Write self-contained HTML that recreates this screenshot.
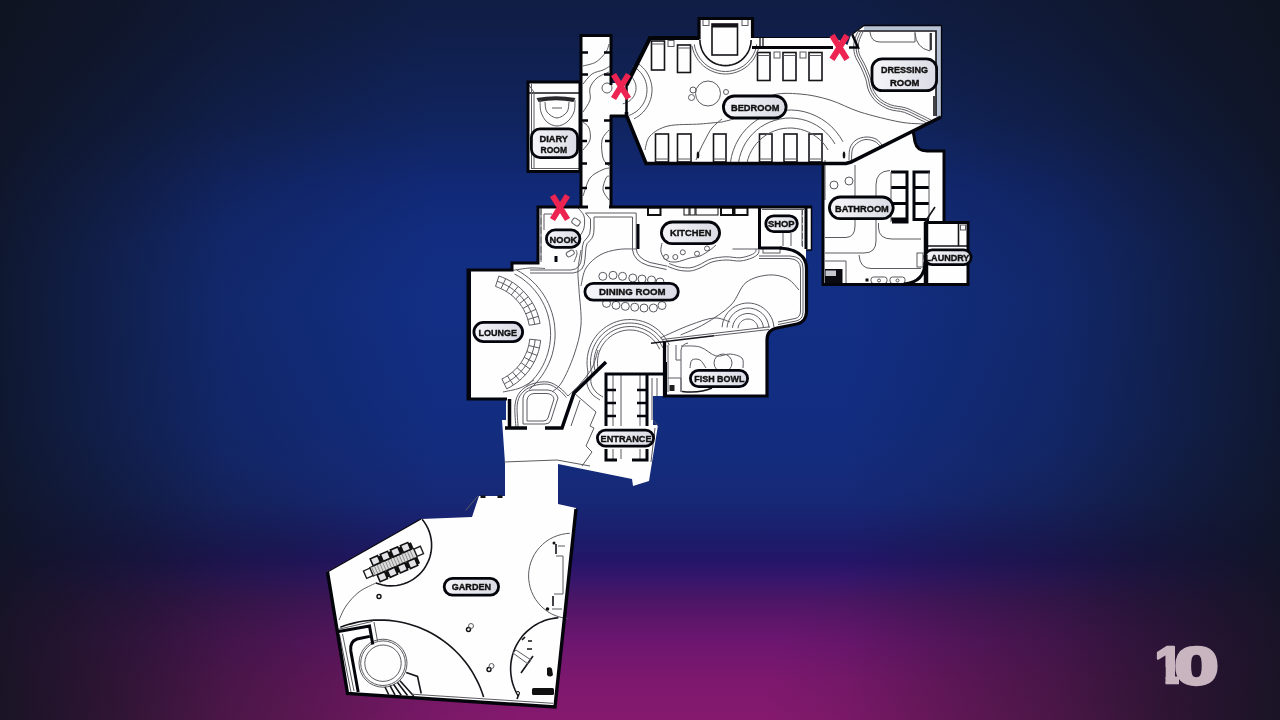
<!DOCTYPE html>
<html><head><meta charset="utf-8"><title>House floor plan</title>
<style>
html,body{margin:0;padding:0;width:1280px;height:720px;overflow:hidden;background:#0d1f5c}
#bg{position:absolute;left:0;top:0;width:1280px;height:720px;
background:
 radial-gradient(ellipse 420px 260px at 0px 0px, rgba(15,19,30,.45) 0%, rgba(15,19,30,.22) 50%, rgba(15,19,30,0) 100%),
 radial-gradient(ellipse 420px 260px at 1280px 0px, rgba(15,19,30,.45) 0%, rgba(15,19,30,.22) 50%, rgba(15,19,30,0) 100%),
 radial-gradient(ellipse 520px 300px at 0px 720px, rgba(15,19,30,.50) 0%, rgba(15,19,30,.28) 50%, rgba(15,19,30,0) 100%),
 radial-gradient(ellipse 520px 300px at 1280px 720px, rgba(15,19,30,.50) 0%, rgba(15,19,30,.28) 50%, rgba(15,19,30,0) 100%),
 linear-gradient(to right, rgba(15,19,30,0.82) 0%, rgba(15,19,30,0.77) 1.5%, rgba(15,19,30,0.52) 9.4%, rgba(15,19,30,0.25) 17.6%, rgba(15,19,30,0.14) 25%, rgba(15,19,30,0) 34%, rgba(15,19,30,0) 66%, rgba(15,19,30,0.14) 75%, rgba(15,19,30,0.26) 82.4%, rgba(15,19,30,0.52) 90.6%, rgba(15,19,30,0.77) 98.5%, rgba(15,19,30,0.82) 100%),
 linear-gradient(to bottom, rgb(16,29,68) 0%, rgb(16,30,72) 3.5%, rgb(16,36,94) 16.7%, rgb(17,41,118) 25.7%, rgb(18,45,128) 33%, rgb(18,47,133) 41.7%, rgb(18,46,131) 50%, rgb(18,45,128) 58%, rgb(20,43,123) 65%, rgb(22,40,118) 69.5%, rgb(25,34,112) 72.2%, rgb(28,28,105) 75%, rgb(36,21,105) 77.8%, rgb(55,22,108) 80.5%, rgb(75,22,102) 83.3%, rgb(92,22,106) 86%, rgb(108,22,112) 89%, rgb(125,24,110) 94.4%, rgb(133,25,110) 100%);
}
svg{position:absolute;left:0;top:0;will-change:transform;opacity:.9999}
text{font-family:"Liberation Sans",sans-serif;font-weight:bold;fill:#111;stroke:#111;stroke-width:.4}
.t{fill:none;stroke:#5c5c62;stroke-width:1}
.m{fill:none;stroke:#15151a;stroke-width:1.6}
.k{fill:none;stroke:#05060c;stroke-width:3}
</style></head><body>
<div id="bg"></div>
<svg width="1280" height="720" viewBox="0 0 1280 720">
<defs>
<linearGradient id="pill" x1="0" y1="0" x2="1" y2="0"><stop offset="0" stop-color="#f6f6fa"/><stop offset="1" stop-color="#dcdce6"/></linearGradient>
</defs>
<g id="fills" fill="#fff" stroke="none">
<rect x="580" y="34" width="32" height="174"/>
<rect x="527" y="81" width="54" height="91"/>
<rect x="611" y="83" width="17" height="33"/>
<path d="M846 49 L851.500 33.500 L860 49 Z"/>
<path d="M650 37 H699 V17 H753 V37 H833 L853 48 L852 34 L864 25 H941 V118 L851 163 H647 L627 116 V83 Z"/>
<path d="M822 160 L851 163 L912 131 L914 142 Q916 151 927 151 H944 V221 H968 V285 H822 Z"/>
<path d="M538 206 H812 V250 H806 V266 V312 Q807 322 797 324 L777 328 Q767 330 767 340 V396 H653 V425 H658 L649 481 L633 486 L632 479 L558 464 V504 L576 508 L555 707 L347.500 693.500 L327 572 L421 519 L472 517 L479 496 H505 V463 L502 420 H506 V399 H468 V270 H512 V263 H538 Z"/>
</g>
<g id="details">
<path class="t" d="M583.0 66.0 C585.2 65.3 592.2 64.3 596.0 62.0 C599.8 59.7 603.8 55.0 606.0 52.0 C608.2 49.0 608.5 45.3 609.0 44.0" />
<path class="t" d="M583.0 84.0 C584.5 82.3 588.7 76.3 592.0 74.0 C595.3 71.7 600.0 71.3 603.0 70.0 C606.0 68.7 608.8 66.7 610.0 66.0" />
<path class="t" d="M583.0 112.0 C584.2 110.0 588.8 104.0 590.0 100.0 C591.2 96.0 588.8 91.7 590.0 88.0 C591.2 84.3 593.8 80.7 597.0 78.0 C600.2 75.3 607.0 73.0 609.0 72.0" />
<circle class="t" cx="607" cy="88" r="5"/>
<path class="t" d="M583.0 150.0 C584.2 148.3 589.0 143.7 590.0 140.0 C591.0 136.3 590.2 131.0 589.0 128.0 C587.8 125.0 584.0 123.0 583.0 122.0" />
<path class="t" d="M609.0 130.0 C607.8 131.7 603.0 135.3 602.0 140.0 C601.0 144.7 601.8 153.7 603.0 158.0 C604.2 162.3 608.0 164.7 609.0 166.0" />
<path class="t" d="M583.0 196.0 C584.2 193.0 586.8 182.3 590.0 178.0 C593.2 173.7 598.8 171.7 602.0 170.0 C605.2 168.3 607.8 168.3 609.0 168.0" />
<path class="t" d="M609.0 200.0 C608.0 198.3 603.5 193.7 603.0 190.0 C602.5 186.3 605.0 180.3 606.0 178.0 C607.0 175.7 608.5 176.3 609.0 176.0" />
<path class="m" d="M529 93 H580" stroke-width="2.500"/>
<path class="t" d="M531.500 84 V169 M534 92 V169 M528 84 L534 92 M531 168.500 H579"/>
<path d="M536.500 98 Q556 94.500 575.500 98 L573.500 102 Q556 98.500 538.500 102 Z" fill="#2a2a2e"/>
<path class="t" d="M540.0 100.0 C540.2 102.0 539.8 108.3 541.0 112.0 C542.2 115.7 544.3 119.7 547.0 122.0 C549.7 124.3 553.7 126.0 557.0 126.0 C560.3 126.0 564.2 124.3 567.0 122.0 C569.8 119.7 572.7 115.7 574.0 112.0 C575.3 108.3 574.8 102.0 575.0 100.0" />
<path class="t" d="M545.0 102.0 C545.3 103.7 545.0 109.3 547.0 112.0 C549.0 114.7 553.7 118.0 557.0 118.0 C560.3 118.0 565.0 114.7 567.0 112.0 C569.0 109.3 568.7 103.7 569.0 102.0" stroke="#aaa"/>
<path class="t" d="M552 108 H562" stroke="#aaa"/>
<rect class="m" x="651.5" y="41" width="13.0" height="29" fill="#fff"/><path class="t" d="M651.5 44 H664.5"/>
<rect class="m" x="677.5" y="45" width="13.0" height="27.5" fill="#fff"/><path class="t" d="M677.5 48 H690.5"/>
<rect class="m" x="757.5" y="52.5" width="12.5" height="28.0" fill="#fff"/><path class="t" d="M757.5 55.5 H770"/>
<rect class="m" x="783" y="52.5" width="13" height="28.0" fill="#fff"/><path class="t" d="M783 55.5 H796"/>
<rect class="m" x="809" y="52.5" width="13" height="28.0" fill="#fff"/><path class="t" d="M809 55.5 H822"/>
<rect class="m" x="655.5" y="134" width="13.0" height="28" fill="#fff"/><path class="t" d="M655.5 159 H668.5"/>
<rect class="m" x="677.5" y="134" width="13.5" height="28" fill="#fff"/><path class="t" d="M677.5 159 H691"/>
<rect class="m" x="713.5" y="134" width="12.5" height="28" fill="#fff"/><path class="t" d="M713.5 159 H726"/>
<rect class="m" x="759.5" y="134" width="12.5" height="28" fill="#fff"/><path class="t" d="M759.5 159 H772"/>
<rect class="m" x="784" y="134" width="13" height="28" fill="#fff"/><path class="t" d="M784 159 H797"/>
<rect class="m" x="809" y="134" width="13" height="28" fill="#fff"/><path class="t" d="M809 159 H822"/>
<rect class="t" x="668" y="40.5" width="6" height="6" stroke="#333"/>
<rect class="t" x="774" y="52" width="6" height="6" stroke="#333"/>
<rect class="t" x="800" y="52" width="6" height="6" stroke="#333"/>
<rect class="m" x="712" y="24" width="25.500" height="31" stroke-width="1.800"/><path d="M712 24 H737.500 V27.500 H712 Z" fill="#15151a"/>
<rect class="t" x="703" y="19.500" width="6" height="6" stroke="#333"/><rect class="t" x="742" y="19.500" width="6" height="6" stroke="#333"/>
<path class="t" d="M706 19.500 H745"/>
<path class="m" d="M751.1 40.0 L750.9 43.3 L750.2 46.6 L749.2 49.8 L747.7 52.8 L745.8 55.6 L743.6 58.1 L741.1 60.3 L738.3 62.2 L735.3 63.7 L732.1 64.7 L728.8 65.4 L725.5 65.6 L722.2 65.4 L718.9 64.7 L715.7 63.7 L712.7 62.2 L709.9 60.3 L707.4 58.1 L705.2 55.6 L703.3 52.8 L701.8 49.8 L700.8 46.6 L700.1 43.3 L699.9 40.0" stroke-width="1.300"/>
<path class="t" d="M756.7 44.4 L756.0 48.1 L754.8 51.6 L753.2 55.0 L751.2 58.2 L748.8 61.1 L746.2 63.8 L743.2 66.1 L740.0 68.0 L736.5 69.5 L732.9 70.6 L729.2 71.3 L725.5 71.5 L721.8 71.3 L718.1 70.6 L714.5 69.5 L711.0 68.0 L707.8 66.1 L704.8 63.8 L702.2 61.1 L699.8 58.2 L697.8 55.0 L696.2 51.6 L695.0 48.1 L694.3 44.4" />
<path class="t" d="M759.0 45.9 L758.1 49.8 L756.7 53.5 L754.9 57.0 L752.8 60.3 L750.2 63.3 L747.4 66.0 L744.2 68.4 L740.8 70.4 L737.1 71.9 L733.3 73.1 L729.4 73.8 L725.5 74.0 L721.6 73.8 L717.7 73.1 L713.9 71.9 L710.2 70.4 L706.8 68.4 L703.6 66.0 L700.8 63.3 L698.2 60.3 L696.1 57.0 L694.3 53.5 L692.9 49.8 L692.0 45.9" />
<circle class="t" cx="708" cy="93.500" r="12.500"/><circle class="t" cx="693" cy="90" r="3"/><circle class="t" cx="691.500" cy="97.500" r="3"/><circle class="t" cx="726" cy="92" r="2.500"/>
<path class="t" d="M628.0 74.1 L629.4 75.0 L630.6 76.0 L631.8 77.2 L632.8 78.4 L633.7 79.8 L634.5 81.2 L635.1 82.7 L635.6 84.3 L635.9 85.9 L636.0 87.5 L636.0 89.2 L635.8 90.8 L635.4 92.4 L634.9 93.9 L634.2 95.4 L633.4 96.8 L632.4 98.1 L631.3 99.3 L630.1 100.4 L628.8 101.4 L627.4 102.2 L625.9 102.9 L624.4 103.4 L622.8 103.8" />
<path class="t" d="M632.7 66.2 L634.9 67.5 L637.0 69.0 L638.9 70.7 L640.7 72.6 L642.3 74.7 L643.6 76.9 L644.8 79.2 L645.7 81.7 L646.4 84.2 L646.8 86.7 L647.0 89.3 L646.9 91.9 L646.6 94.5 L646.1 97.0 L645.3 99.5 L644.3 101.8 L643.0 104.1 L641.6 106.2 L639.9 108.2 L638.1 110.1 L636.1 111.7 L633.9 113.1 L631.6 114.4 L629.2 115.4" />
<path class="t" d="M636.0 62.3 L638.4 63.8 L640.7 65.6 L642.8 67.6 L644.8 69.7 L646.5 72.0 L648.0 74.5 L649.3 77.1 L650.3 79.8 L651.1 82.5 L651.7 85.4 L652.0 88.2 L652.0 91.1 L651.7 94.0 L651.3 96.8 L650.5 99.6 L649.5 102.3 L648.3 104.9 L646.8 107.4 L645.2 109.8 L643.3 112.0 L641.2 114.0 L639.0 115.8 L636.6 117.4 L634.0 118.8" />
<path class="t" d="M645.0 150.0 C645.8 147.7 646.2 140.0 650.0 136.0 C653.8 132.0 659.7 128.0 668.0 126.0 C676.3 124.0 691.0 124.7 700.0 124.0 C709.0 123.3 718.3 122.3 722.0 122.0" />
<path class="t" d="M722.0 122.0 C725.0 121.0 732.0 120.3 740.0 116.0 C748.0 111.7 760.0 99.7 770.0 96.0 C780.0 92.3 790.0 93.3 800.0 94.0 C810.0 94.7 820.0 97.0 830.0 100.0 C840.0 103.0 848.3 108.3 860.0 112.0 C871.7 115.7 889.2 120.0 900.0 122.0 C910.8 124.0 920.8 123.7 925.0 124.0" />
<path class="t" d="M722.0 119.0 C720.3 120.5 714.8 124.5 712.0 128.0 C709.2 131.5 707.0 136.3 705.0 140.0 C703.0 143.7 701.5 146.7 700.0 150.0 C698.5 153.3 696.7 158.3 696.0 160.0" />
<path class="t" d="M738.5 162.8 L739.5 157.5 L741.1 152.4 L743.2 147.4 L745.7 142.7 L748.8 138.3 L752.3 134.2 L756.2 130.5 L760.4 127.2 L765.0 124.4 L769.8 122.1 L774.9 120.3 L780.1 119.0 L785.4 118.2 L790.8 118.0 L796.1 118.4 L801.4 119.3 L806.6 120.7 L811.6 122.7 L816.3 125.2 L820.8 128.1 L825.0 131.5 L828.7 135.3 L832.1 139.5 L835.0 144.0" />
<path class="t" d="M730.4 162.7 L731.5 156.5 L733.3 150.4 L735.7 144.5 L738.7 138.9 L742.2 133.7 L746.3 128.9 L750.9 124.5 L755.9 120.7 L761.3 117.3 L767.0 114.6 L772.9 112.5 L779.1 111.0 L785.3 110.2 L791.7 110.0 L798.0 110.5 L804.2 111.7 L810.2 113.5 L816.1 116.0 L821.6 119.0 L826.8 122.6 L831.6 126.7 L835.9 131.4 L839.7 136.4 L843.0 141.8" />
<path class="t" d="M747.0 162.9 L748.1 158.6 L749.6 154.5 L751.6 150.5 L754.0 146.8 L756.7 143.3 L759.7 140.1 L763.1 137.2 L766.7 134.7 L770.5 132.5 L774.6 130.8 L778.8 129.4 L783.1 128.5 L787.5 128.1 L791.9 128.0 L796.3 128.5 L800.6 129.3 L804.9 130.6 L808.9 132.3 L812.8 134.4 L816.5 136.9 L819.9 139.7 L823.0 142.8 L825.7 146.3 L828.1 150.0" />
<ellipse cx="698" cy="155" rx="1.300" ry="3.500" fill="#111"/><ellipse cx="844" cy="155" rx="1.300" ry="3.500" fill="#111"/>
<path class="t" d="M849.0 160.0 C849.2 158.0 848.8 151.3 850.0 148.0 C851.2 144.7 853.3 141.8 856.0 140.0 C858.7 138.2 862.7 137.2 866.0 137.0 C869.3 136.8 873.3 137.7 876.0 139.0 C878.7 140.3 881.0 144.0 882.0 145.0" />
<path class="t" d="M851.5 160.0 C851.7 158.2 851.4 151.9 852.5 149.0 C853.6 146.1 855.8 144.1 858.0 142.5 C860.2 140.9 863.2 139.7 866.0 139.5 C868.8 139.3 872.7 140.4 875.0 141.5 C877.3 142.6 879.2 145.2 880.0 146.0" stroke="#aaa"/>
<path d="M864 26 H941 V30.500 H864 Z" fill="#b9c3d6"/><path d="M936 30 H941 V117 H936 Z" fill="#b9c3d6"/>
<path class="m" d="M858 31 H936 V116" stroke-width="1.400"/>
<path class="t" d="M870 32 Q871 42 880 42 H915 V32" stroke="#333"/>
<path class="t" d="M915 33 Q916 48 930 51 V33" stroke="#333"/><path class="m" d="M931 33 V50" stroke-width="2"/>
<path class="t" d="M861.0 31.0 C860.2 32.8 857.2 38.2 856.5 42.0 C855.8 45.8 855.9 50.0 857.0 54.0 C858.1 58.0 861.2 62.0 863.0 66.0 C864.8 70.0 866.7 74.0 868.0 78.0 C869.3 82.0 869.3 86.3 871.0 90.0 C872.7 93.7 874.8 97.2 878.0 100.0 C881.2 102.8 885.5 105.3 890.0 107.0 C894.5 108.7 900.3 108.5 905.0 110.0 C909.7 111.5 913.8 114.0 918.0 116.0 C922.2 118.0 928.0 121.0 930.0 122.0" /><path class="t" d="M858.8 30.1 C858.0 32.0 854.8 37.5 854.1 41.6 C853.5 45.7 853.6 50.4 854.7 54.6 C855.8 58.9 859.0 63.0 860.8 67.0 C862.7 71.0 864.4 74.8 865.7 78.8 C867.1 82.8 867.0 87.2 868.8 91.0 C870.6 94.8 873.0 98.7 876.4 101.8 C879.8 104.8 884.5 107.5 889.2 109.3 C893.8 111.0 899.6 110.8 904.3 112.3 C908.9 113.8 912.9 116.2 917.0 118.2 C921.1 120.1 926.9 123.1 928.9 124.1" />
<path class="t" d="M863.0 31.8 C862.3 33.6 859.3 38.8 858.7 42.4 C858.0 46.0 858.1 49.6 859.1 53.4 C860.2 57.2 863.2 61.1 865.0 65.1 C866.8 69.1 868.8 73.3 870.1 77.3 C871.4 81.3 871.4 85.6 873.0 89.1 C874.6 92.6 876.5 95.7 879.5 98.4 C882.4 101.0 886.4 103.3 890.8 104.9 C895.1 106.5 901.0 106.4 905.7 107.9 C910.4 109.4 914.7 112.0 919.0 114.0 C923.2 116.0 929.0 119.0 931.0 120.0" stroke="#aaa"/>
<path class="m" d="M934 96 V116" stroke-width="2.400"/>
<path class="t" d="M825 237.500 H846 Q855 237 855 226 V165"/>
<path class="t" d="M825 253 H864 Q876 253 876 241 V185 Q876 171 890 170.500"/>
<path class="t" d="M878.500 223 V228 Q879 239 892 239 H921"/>
<path class="t" d="M859 255 Q860 268.500 871 268.500 H921"/>
<path class="t" d="M825 261 H846 V283"/>
<path class="t" d="M825 160 V200" stroke="#aaa"/>
<circle class="t" cx="834" cy="185" r="4"/><circle class="t" cx="849" cy="181" r="4"/>
<path d="M825 269 H842.500 V283 H825 Z" fill="#0b0b10"/><path d="M825.500 270.500 H836 V276 H825.500 Z" fill="#c8c8d0"/>
<rect class="t" x="871" y="277" width="16" height="6.500" rx="2.500" stroke="#222"/><rect class="t" x="890" y="277" width="15" height="6.500" rx="2.500" stroke="#222"/><circle class="t" cx="879" cy="280.500" r="1.500" stroke="#222"/><circle class="t" cx="897.500" cy="280.500" r="1.500" stroke="#222"/><rect x="865.500" y="278.500" width="3" height="3" fill="#111"/>
<path class="k" stroke-width="3" d="M891 172 H907 V222 H892 M891 187.500 H907 M891 203.500 H907 M891 219 H907"/>
<path class="k" stroke-width="3" d="M930 172 H914 V219.500 H929 M914 187.500 H929 M914 203.500 H929"/>
<path class="t" d="M891 172 V222 M929 172 V219" stroke="#999"/>
<path class="m" d="M935 207 L925 222" stroke-width="1.800"/>
<path class="m" d="M927 246 H967 M958.500 223 V246" stroke-width="2"/><rect class="t" x="960.500" y="225" width="5" height="5" stroke="#222"/>
<rect class="t" x="917" y="253" width="6" height="14" stroke="#444"/>
<path class="t" d="M541 209 V260 M544 214 V230 M544 214 H552"/>
<path class="k" stroke-width="2.400" d="M556 256 V262"/>
<path class="t" d="M541 208 V262" stroke="#111" stroke-dasharray="7 2.500" stroke-width="1.800"/>
<path class="t" d="M578.0 208.0 C579.0 209.3 583.0 212.7 584.0 216.0 C585.0 219.3 584.7 224.7 584.0 228.0 C583.3 231.3 580.7 234.7 580.0 236.0" />
<rect class="t" x="572" y="219" width="8" height="6" rx="2" transform="rotate(35 576 222)"/><rect class="t" x="566" y="251" width="8" height="5" rx="2" transform="rotate(-30 570 253)"/>
<path class="t" d="M574.0 262.0 C574.5 260.7 576.7 256.0 577.0 254.0 C577.3 252.0 576.2 250.7 576.0 250.0" />
<path class="t" d="M530 270 H571 Q581 269 581.500 258 L582.500 246 Q583 241 587 238 Q590.500 235 590.500 228 V219 L585.500 213 H636.200 V249 Q637 258 650 262.500 L667.500 266.200"/>
<path class="t" d="M530 273 H573 Q584.500 272 585 259 L586 247 Q586.500 243 590 240.500 Q594 237 594 229 V217 H632.500 V250 Q634 261 648 265.500 L666.500 269.500"/>
<path class="k" stroke-width="2" d="M638 224 V249"/>
<rect x="648" y="207.500" width="12.5" height="7.500" fill="#fff" stroke="#111" stroke-width="2"/>
<rect x="684" y="207.500" width="5" height="7.500" fill="#fff" stroke="#111" stroke-width="1"/>
<rect x="690" y="207.500" width="5" height="7.500" fill="#fff" stroke="#111" stroke-width="1"/>
<rect x="696" y="207.500" width="22" height="7.500" fill="#fff" stroke="#111" stroke-width="1"/>
<rect x="721" y="207.500" width="12" height="7.500" fill="#fff" stroke="#111" stroke-width="2"/>
<rect x="734.5" y="207.500" width="13" height="7.500" fill="#fff" stroke="#111" stroke-width="2"/>
<path class="t" d="M668.0 266.5 C669.7 267.1 674.3 269.2 678.0 270.0 C681.7 270.8 686.3 271.3 690.0 271.0 C693.7 270.7 696.3 269.5 700.0 268.0 C703.7 266.5 707.7 263.3 712.0 262.0 C716.3 260.7 721.3 260.2 726.0 260.0 C730.7 259.8 735.7 261.3 740.0 261.0 C744.3 260.7 749.0 259.2 752.0 258.0 C755.0 256.8 756.8 255.3 758.0 254.0 C759.2 252.7 758.8 250.7 759.0 250.0" /><path class="t" d="M669.1 263.5 C670.7 264.0 675.2 266.1 678.6 266.9 C682.1 267.6 686.4 268.1 689.7 267.8 C693.1 267.5 695.2 266.5 698.8 265.0 C702.3 263.6 706.5 260.3 711.1 258.9 C715.6 257.6 721.1 257.0 725.9 256.8 C730.7 256.6 735.6 258.1 739.8 257.8 C743.9 257.5 748.2 256.0 750.8 255.0 C753.5 254.0 754.7 252.9 755.6 251.9 C756.4 250.9 755.8 249.7 755.9 249.2" />
<path class="t" d="M662.0 243.0 C661.8 244.5 660.3 249.2 661.0 252.0 C661.7 254.8 663.5 258.3 666.0 260.0 C668.5 261.7 672.0 262.3 676.0 262.0 C680.0 261.7 686.0 259.0 690.0 258.0 C694.0 257.0 696.7 257.3 700.0 256.0 C703.3 254.7 707.3 251.8 710.0 250.0 C712.7 248.2 715.0 245.8 716.0 245.0" />
<circle class="t" cx="666" cy="257" r="2.500" stroke="#333"/>
<circle class="t" cx="675.3" cy="257" r="2.500" stroke="#333"/>
<circle class="t" cx="682.8" cy="252.3" r="2.500" stroke="#333"/>
<circle class="t" cx="697" cy="253.7" r="2.500" stroke="#333"/>
<circle class="t" cx="707" cy="248.5" r="2.500" stroke="#333"/>
<path class="t" d="M732.500 249 H758" stroke="#444" stroke-width="1.200"/>
<path class="t" d="M783 233 V246 M791 233 V246 M762 209.500 H804 M802 209 V246"/>
<path class="t" d="M802.500 209 V247" stroke="#111" stroke-dasharray="6 2" stroke-width="1.200"/>
<rect class="t" x="763" y="248" width="17" height="5"/>
<path class="t" d="M759 256 H790 Q803 256.500 803 268 V312 Q803 319.500 796 321 L778 324.500"/>
<path class="t" d="M759 258.500 H789 Q800.500 259 800.500 269 V311 Q800.500 317.500 795 318.500 L778 322"/>
<circle class="t" cx="602.8" cy="276.3" r="4" stroke="#5a6070" stroke-width="1.400" fill="#f4f6fb"/>
<circle class="t" cx="613" cy="275.3" r="4" stroke="#5a6070" stroke-width="1.400" fill="#f4f6fb"/>
<circle class="t" cx="622.5" cy="276.3" r="4" stroke="#5a6070" stroke-width="1.400" fill="#f4f6fb"/>
<circle class="t" cx="632.8" cy="278" r="4" stroke="#5a6070" stroke-width="1.400" fill="#f4f6fb"/>
<circle class="t" cx="642" cy="279" r="4" stroke="#5a6070" stroke-width="1.400" fill="#f4f6fb"/>
<circle class="t" cx="651.5" cy="280" r="4" stroke="#5a6070" stroke-width="1.400" fill="#f4f6fb"/>
<circle class="t" cx="660" cy="282" r="4" stroke="#5a6070" stroke-width="1.400" fill="#f4f6fb"/>
<circle class="t" cx="606.5" cy="303.4" r="4" stroke="#5a6070" stroke-width="1.400" fill="#f4f6fb"/>
<circle class="t" cx="616" cy="305.3" r="4" stroke="#5a6070" stroke-width="1.400" fill="#f4f6fb"/>
<circle class="t" cx="625.3" cy="306.3" r="4" stroke="#5a6070" stroke-width="1.400" fill="#f4f6fb"/>
<circle class="t" cx="634.7" cy="307.2" r="4" stroke="#5a6070" stroke-width="1.400" fill="#f4f6fb"/>
<circle class="t" cx="644" cy="308" r="4" stroke="#5a6070" stroke-width="1.400" fill="#f4f6fb"/>
<circle class="t" cx="653.4" cy="308" r="4" stroke="#5a6070" stroke-width="1.400" fill="#f4f6fb"/>
<circle class="t" cx="662" cy="305.5" r="4" stroke="#5a6070" stroke-width="1.400" fill="#f4f6fb"/>
<path class="t" d="M581.0 250.0 C580.5 253.3 578.3 263.3 578.0 270.0 C577.7 276.7 578.5 280.8 579.0 290.0 C579.5 299.2 581.8 314.2 581.0 325.0 C580.2 335.8 577.2 345.5 574.0 355.0 C570.8 364.5 565.7 375.8 562.0 382.0 C558.3 388.2 553.7 390.3 552.0 392.0" />
<path class="t" d="M581.0 286.0 C581.8 283.0 582.8 273.2 586.0 268.0 C589.2 262.8 594.7 258.1 600.0 255.0 C605.3 251.9 611.8 250.5 618.0 249.5 C624.2 248.5 633.8 249.1 637.0 249.0" />
<path class="t" d="M680.6 335.0 C684.7 333.1 696.6 328.7 705.0 323.7 C713.4 318.7 724.2 311.9 731.0 305.0 C737.8 298.1 739.7 287.5 746.0 282.5 C752.3 277.5 761.8 275.6 768.7 275.0 C775.6 274.4 782.5 276.2 787.5 278.7 C792.5 281.2 797.1 288.1 799.0 290.0" />
<path class="t" d="M660.0 338.0 C665.0 335.8 681.0 328.3 690.0 325.0 C699.0 321.7 707.3 318.5 714.0 318.0 C720.7 317.5 727.3 321.3 730.0 322.0" />
<path class="t" d="M587.9 371.4 L587.3 367.8 L587.0 364.1 L587.1 360.4 L587.4 356.7 L588.1 353.0 L589.0 349.5 L590.3 346.0 L591.9 342.6 L593.7 339.4 L595.8 336.4 L598.2 333.5 L600.8 330.9 L603.7 328.5 L606.7 326.4 L609.9 324.5 L613.2 322.9 L616.7 321.6 L620.3 320.6 L623.9 319.9 L627.6 319.6 L631.3 319.5 L635.0 319.8 L638.7 320.4 L642.3 321.3 L645.8 322.5 L649.2 324.0 L652.4 325.8 L655.5 327.9 L658.4 330.2 L661.1 332.8 L663.5 335.5 L665.7 338.5 L667.6 341.7 L669.3 345.0" stroke="#555"/>
<path class="t" d="M591.4 370.7 L590.8 367.4 L590.5 364.0 L590.5 360.6 L590.9 357.2 L591.5 353.8 L592.4 350.5 L593.5 347.3 L595.0 344.2 L596.7 341.3 L598.6 338.5 L600.8 335.9 L603.2 333.5 L605.8 331.3 L608.6 329.3 L611.5 327.6 L614.6 326.1 L617.8 324.9 L621.1 324.0 L624.4 323.4 L627.8 323.1 L631.2 323.0 L634.6 323.3 L638.0 323.8 L641.3 324.6 L644.5 325.8 L647.6 327.1 L650.6 328.8 L653.4 330.7 L656.1 332.8 L658.5 335.2 L660.8 337.7 L662.8 340.5 L664.6 343.4 L666.1 346.4" stroke="#555"/>
<path class="t" d="M594.8 370.0 L594.3 366.9 L594.0 363.8 L594.0 360.7 L594.3 357.6 L594.9 354.6 L595.7 351.6 L596.8 348.7 L598.1 345.9 L599.6 343.2 L601.4 340.6 L603.4 338.2 L605.6 336.0 L608.0 334.0 L610.5 332.2 L613.2 330.7 L616.0 329.3 L618.9 328.3 L621.9 327.4 L624.9 326.9 L628.0 326.6 L631.1 326.5 L634.2 326.7 L637.3 327.2 L640.3 328.0 L643.2 329.0 L646.0 330.3 L648.8 331.8 L651.3 333.5 L653.8 335.5 L656.0 337.6 L658.0 339.9 L659.9 342.4 L661.5 345.1 L662.9 347.9" stroke="#555"/>
<path class="t" d="M598.2 369.3 L597.7 366.5 L597.5 363.7 L597.5 360.9 L597.8 358.1 L598.3 355.4 L599.0 352.6 L600.0 350.0 L601.2 347.5 L602.6 345.1 L604.2 342.8 L606.0 340.6 L608.0 338.6 L610.1 336.8 L612.4 335.2 L614.8 333.8 L617.3 332.6 L620.0 331.6 L622.7 330.8 L625.4 330.3 L628.2 330.0 L631.0 330.0 L633.8 330.2 L636.6 330.7 L639.3 331.4 L641.9 332.3 L644.5 333.4 L646.9 334.8 L649.3 336.3 L651.4 338.1 L653.5 340.0 L655.3 342.1 L657.0 344.4 L658.4 346.8 L659.7 349.3" stroke="#555"/>
<path class="t" d="M588.0 371.0 C587.8 373.2 586.3 380.2 587.0 384.0 C587.7 387.8 589.8 391.3 592.0 394.0 C594.2 396.7 598.7 399.0 600.0 400.0" />
<path class="t" d="M592.0 371.0 C591.8 373.0 590.3 379.5 591.0 383.0 C591.7 386.5 594.0 389.7 596.0 392.0 C598.0 394.3 601.8 396.2 603.0 397.0" />
<path class="t" d="M722.1 327.2 L722.5 324.0 L723.3 320.8 L724.5 317.8 L726.1 315.0 L728.0 312.3 L730.3 310.0 L732.8 307.9 L735.5 306.2 L738.5 304.8 L741.6 303.8 L744.8 303.2 L748.0 303.0 L751.2 303.2 L754.4 303.8 L757.5 304.8 L760.5 306.2 L763.2 307.9 L765.7 310.0 L768.0 312.3 L769.9 315.0 L771.5 317.8 L772.7 320.8 L773.5 324.0 L773.9 327.2" />
<path class="t" d="M727.1 327.5 L727.4 324.9 L728.1 322.4 L729.0 320.0 L730.3 317.7 L731.9 315.5 L733.7 313.6 L735.7 312.0 L737.9 310.6 L740.3 309.5 L742.8 308.7 L745.4 308.2 L748.0 308.0 L750.6 308.2 L753.2 308.7 L755.7 309.5 L758.1 310.6 L760.3 312.0 L762.3 313.6 L764.1 315.5 L765.7 317.7 L767.0 320.0 L767.9 322.4 L768.6 324.9 L768.9 327.5" />
<path class="t" d="M732.5 327.9 L732.8 326.0 L733.3 324.1 L734.0 322.3 L735.0 320.6 L736.1 319.1 L737.4 317.7 L738.9 316.4 L740.6 315.4 L742.3 314.6 L744.2 314.0 L746.1 313.6 L748.0 313.5 L749.9 313.6 L751.8 314.0 L753.7 314.6 L755.4 315.4 L757.1 316.4 L758.6 317.7 L759.9 319.1 L761.0 320.6 L762.0 322.3 L762.7 324.1 L763.2 326.0 L763.5 327.9" />
<path class="t" d="M738.0 328.3 L738.2 327.1 L738.5 325.9 L739.0 324.7 L739.6 323.6 L740.3 322.6 L741.2 321.7 L742.1 320.9 L743.2 320.2 L744.3 319.7 L745.5 319.3 L746.8 319.1 L748.0 319.0 L749.2 319.1 L750.5 319.3 L751.7 319.7 L752.8 320.2 L753.9 320.9 L754.8 321.7 L755.7 322.6 L756.4 323.6 L757.0 324.7 L757.5 325.9 L757.8 327.1 L758.0 328.3" />
<path class="t" d="M516.6 270.0 L520.7 272.3 L524.7 275.0 L528.4 277.8 L532.0 280.9 L535.3 284.2 L538.5 287.8 L541.4 291.5 L544.0 295.4 L546.4 299.5 L548.5 303.7 L550.3 308.1 L551.9 312.6 L553.1 317.1 L554.1 321.7 L554.7 326.4 L555.0 331.1 L555.1 335.9 L554.8 340.6 L554.2 345.3 L553.3 349.9 L552.2 354.5 L550.7 359.0 L548.9 363.3 L546.8 367.6 L544.5 371.7 L541.9 375.7 L539.1 379.4 L536.0 383.0 L532.7 386.4 L529.2 389.5" />
<path class="t" d="M514.5 274.0 L518.4 276.2 L522.1 278.6 L525.6 281.3 L528.9 284.2 L532.1 287.3 L535.0 290.7 L537.7 294.2 L540.2 297.8 L542.4 301.7 L544.4 305.6 L546.1 309.7 L547.6 313.9 L548.7 318.2 L549.6 322.5 L550.2 326.9 L550.5 331.3 L550.6 335.7 L550.3 340.2 L549.8 344.6 L548.9 348.9 L547.8 353.2 L546.4 357.4 L544.8 361.5 L542.9 365.5 L540.7 369.4 L538.3 373.1 L535.6 376.6 L532.7 380.0 L529.6 383.1 L526.3 386.1" />
<path class="t" d="M512.0 270.5 C515.0 270.1 524.5 268.3 530.0 268.0 C535.5 267.7 542.5 268.4 545.0 268.5" />
<path class="t" d="M495.5 286.4 L498.6 287.6 L501.7 289.0 L504.7 290.5 L507.6 292.3 L510.4 294.3 L513.0 296.4 L515.4 298.7 L517.7 301.2 L519.9 303.8 L521.8 306.6 L523.6 309.5 L525.1 312.5 L526.5 315.6 L527.6 318.8 L528.5 322.0 L529.2 325.3" stroke="#888"/><path class="t" d="M498.9 276.0 L502.7 277.4 L506.5 279.1 L510.2 281.0 L513.7 283.1 L517.0 285.5 L520.2 288.1 L523.2 291.0 L526.0 294.0 L528.6 297.2 L531.0 300.6 L533.2 304.1 L535.1 307.7 L536.7 311.5 L538.1 315.4 L539.2 319.4 L540.1 323.4" stroke="#888"/><path class="t" d="M497.2 281.2 L500.7 282.5 L504.1 284.0 L507.4 285.8 L510.6 287.7 L513.7 289.9 L516.6 292.3 L519.3 294.8 L521.9 297.6 L524.3 300.5 L526.4 303.6 L528.4 306.8 L530.1 310.1 L531.6 313.5 L532.9 317.1 L533.9 320.7 L534.7 324.4" stroke="#aaa"/><path class="t" stroke="#888" d="M495.5 286.4 L498.9 276.0"/><path class="t" stroke="#888" d="M501.0 288.6 L505.7 278.7"/><path class="t" stroke="#888" d="M506.3 291.5 L512.1 282.1"/><path class="t" stroke="#888" d="M511.2 295.0 L518.1 286.4"/><path class="t" stroke="#888" d="M515.7 299.0 L523.5 291.3"/><path class="t" stroke="#888" d="M519.6 303.5 L528.4 296.8"/><path class="t" stroke="#888" d="M523.0 308.5 L532.5 302.9"/><path class="t" stroke="#888" d="M525.8 313.8 L535.8 309.4"/><path class="t" stroke="#888" d="M527.8 319.5 L538.4 316.3"/><path class="t" stroke="#888" d="M529.2 325.3 L540.1 323.4"/>
<path class="t" d="M529.7 339.2 L529.3 342.4 L528.7 345.5 L527.8 348.5 L526.8 351.5 L525.6 354.4 L524.2 357.3 L522.7 360.0 L521.0 362.7 L519.1 365.2 L517.0 367.6 L514.8 369.9 L512.5 372.0 L510.0 374.0 L507.4 375.8 L504.7 377.5 L501.9 378.9" stroke="#888"/><path class="t" d="M540.7 340.4 L540.1 344.2 L539.4 348.0 L538.4 351.7 L537.1 355.4 L535.7 358.9 L534.0 362.4 L532.1 365.8 L530.0 369.0 L527.7 372.1 L525.2 375.0 L522.5 377.8 L519.6 380.4 L516.6 382.8 L513.4 385.0 L510.2 387.0 L506.7 388.8" stroke="#888"/><path class="t" d="M535.2 339.8 L534.7 343.3 L534.0 346.7 L533.1 350.1 L532.0 353.4 L530.7 356.7 L529.1 359.8 L527.4 362.9 L525.5 365.8 L523.4 368.6 L521.1 371.3 L518.6 373.8 L516.0 376.2 L513.3 378.4 L510.4 380.4 L507.4 382.2 L504.3 383.9" stroke="#aaa"/><path class="t" stroke="#888" d="M529.7 339.2 L540.7 340.4"/><path class="t" stroke="#888" d="M528.7 345.5 L539.4 348.0"/><path class="t" stroke="#888" d="M526.8 351.5 L537.1 355.4"/><path class="t" stroke="#888" d="M524.2 357.3 L534.0 362.4"/><path class="t" stroke="#888" d="M521.0 362.7 L530.0 369.0"/><path class="t" stroke="#888" d="M517.0 367.6 L525.2 375.0"/><path class="t" stroke="#888" d="M512.5 372.0 L519.6 380.4"/><path class="t" stroke="#888" d="M507.4 375.8 L513.4 385.0"/><path class="t" stroke="#888" d="M501.9 378.9 L506.7 388.8"/>
<path class="t" d="M503.0 392.0 C505.8 391.3 514.8 390.0 520.0 388.0 C525.2 386.0 531.7 381.3 534.0 380.0" stroke="#888"/>
<path class="t" d="M516.0 428.0 C515.8 424.2 514.3 411.0 515.0 405.0 C515.7 399.0 517.2 395.5 520.0 392.0 C522.8 388.5 527.3 385.7 532.0 384.0 C536.7 382.3 543.3 381.3 548.0 382.0 C552.7 382.7 556.7 385.7 560.0 388.0 C563.3 390.3 566.7 394.7 568.0 396.0" /><path class="t" d="M518.2 427.9 C518.0 424.1 516.6 411.0 517.2 405.2 C517.8 399.5 519.1 396.6 521.7 393.4 C524.3 390.2 528.4 387.6 532.7 386.1 C537.1 384.5 543.4 383.6 547.7 384.2 C552.0 384.8 555.6 387.6 558.7 389.8 C561.9 392.0 565.2 396.3 566.4 397.6" />
<path class="t" d="M523 424 V398 Q524 391 532 390 H548 Q556 391 558 398 L551 420 Q550 424 545 424 Z"/>
<path class="t" d="M527 421 V400 Q528 394 534 393.500 H547 Q553 394 554 399 L548 418 Q547 421 543 421 Z" stroke="#999"/>
<path class="t" d="M568.0 396.0 C570.0 394.0 576.0 388.7 580.0 384.0 C584.0 379.3 589.0 373.7 592.0 368.0 C595.0 362.3 597.0 353.0 598.0 350.0" />
<path class="m" d="M651 343.200 L714 335.800" stroke-width="1.600"/><path class="t" d="M714 335.800 L769 329.500" stroke="#333"/><path class="t" d="M662 339.500 L770 326.800"/>
<path class="t" d="M668 345 V392 M668 378 H681 V392 M681 392 V350 Q682 344 688 343"/>
<path class="t" d="M676 345 V360 H681"/>
<path class="t" d="M681.0 346.0 C684.2 346.2 694.2 345.3 700.0 347.0 C705.8 348.7 711.0 354.8 716.0 356.0 C721.0 357.2 725.7 353.7 730.0 354.0 C734.3 354.3 739.8 355.7 742.0 358.0 C744.2 360.3 742.8 366.3 743.0 368.0" />
<circle class="t" cx="723" cy="363" r="9"/>
<path class="t" d="M690.0 368.0 C690.3 366.7 690.3 361.3 692.0 360.0 C693.7 358.7 697.7 358.7 700.0 360.0 C702.3 361.3 705.0 366.7 706.0 368.0" />
<rect x="669.500" y="385" width="5" height="6" fill="#222"/><path class="m" d="M682 391.500 Q700 393.500 712 388" stroke-width="2.400"/><path class="k" stroke-width="4.500" d="M665.500 362 V396"/>
<path class="t" d="M613 375 V426 M621 375 V426 M640 375 V426 M613 449 V459 M621 449 V459 M640 449 V459 M652 378 V420 M657 378 V396" stroke="#777"/>
<path class="t" d="M574 393 L596 412 L590 426 L594 428 L586 446 L592 452 L582 466" stroke="#555"/>
<path class="t" d="M580 400 L571 426 M504 462 L557 460 L590 466" stroke="#aaa"/>
<path class="t" d="M653 420 L658 426 M651 462 L655 428" stroke="#aab"/>
<path class="m" d="M422.1 519.2 L424.3 522.1 L426.2 525.1 L427.9 528.3 L429.2 531.6 L430.3 535.0 L431.0 538.5 L431.5 542.1 L431.6 545.7 L431.4 549.3 L430.9 552.8 L430.1 556.3 L429.0 559.7 L427.5 563.0 L425.8 566.2 L423.8 569.2 L421.6 572.0 L419.1 574.6 L416.4 576.9 L413.5 579.1 L410.5 580.9 L407.3 582.5 L403.9 583.8 L400.5 584.8 L396.9 585.5 L393.4 585.8 L389.8 585.9 L386.2 585.6 L382.7 585.0 L379.2 584.1 L375.8 582.9" stroke-width="1.100"/>
<path class="t" d="M375.8 583.0 C373.0 584.5 364.0 588.2 359.0 592.0 C354.0 595.8 349.3 601.3 346.0 606.0 C342.7 610.7 340.2 617.7 339.0 620.0" stroke="#222"/>
<path class="t" d="M567.6 618.5 L563.3 617.9 L559.1 616.9 L555.1 615.5 L551.2 613.7 L547.5 611.5 L544.1 608.9 L540.9 606.0 L538.1 602.8 L535.5 599.3 L533.4 595.6 L531.6 591.7 L530.2 587.6 L529.3 583.4 L528.7 579.2 L528.6 574.9 L528.9 570.6 L529.7 566.4 L530.9 562.2 L532.5 558.2 L534.4 554.4 L536.8 550.8 L539.5 547.5 L542.5 544.5 L545.8 541.7 L549.4 539.3 L553.2 537.3 L557.2 535.7 L561.3 534.5 L565.5 533.7 L569.8 533.3" stroke="#333"/>
<path class="m" d="M558.4 617.7 L554.9 618.1 L551.4 618.7 L548.0 619.5 L544.6 620.6 L541.4 621.9 L538.2 623.4 L535.1 625.2 L532.2 627.1 L529.4 629.3 L526.7 631.6 L524.2 634.1 L521.9 636.8 L519.8 639.6 L517.9 642.6 L516.2 645.7 L514.7 648.9 L513.4 652.2 L512.4 655.5 L511.6 659.0 L511.0 662.4 L510.7 666.0 L510.6 669.5 L510.8 673.0 L511.2 676.5 L511.8 680.0 L512.7 683.4 L513.8 686.7 L515.1 690.0 L516.6 693.2 L518.4 696.2" stroke-width="1.400"/>
<path class="m" d="M340.3 627.2 L345.0 625.6 L349.8 624.1 L354.6 622.9 L359.4 621.8 L364.3 621.0 L369.3 620.5 L374.2 620.1 L379.2 620.0 L384.2 620.1 L389.1 620.4 L394.0 621.0 L399.0 621.8 L403.8 622.8 L408.6 624.0 L413.4 625.4 L418.1 627.1 L422.7 629.0 L427.2 631.0 L431.6 633.3 L435.9 635.8 L440.1 638.5 L444.2 641.3 L448.1 644.4 L451.9 647.6 L455.5 651.0 L459.0 654.5 L462.3 658.2 L465.4 662.1 L468.4 666.0 L471.2 670.2 L473.7 674.4 L476.1 678.8 L478.3 683.2 L480.3 687.8 L482.1 692.4 L483.6 697.1" stroke-width="1.600"/>
<circle class="t" cx="383" cy="663.200" r="24" stroke="#666"/><circle class="t" cx="383" cy="663.200" r="22.300" stroke="#888"/><circle class="t" cx="383" cy="663.200" r="18.200" stroke="#555" stroke-width="1.200"/>
<path class="t" d="M337.500 629.500 L372.500 621.400" stroke="#222" stroke-width="1.200"/>
<path class="k" stroke-width="2.400" d="M338.500 631.500 L369.500 626 L372.800 644.500"/>
<path class="k" stroke-width="2.400" d="M369.800 636.400 L357 639 Q349.500 641.500 350.800 651 L358.200 692"/>
<path class="t" d="M374 622 L377.500 641" stroke="#333"/>
<path class="t" d="M342.500 634 L354 691 M339.500 634.500 L351 692" stroke="#888"/>
<path class="m" stroke-width="1.500" d="M406.200 672.600 L417.500 676.400 L421.200 693.500"/>
<path class="m" stroke-width="1.300" d="M385 687 L388.700 694.500 M390 685.700 L395 694.800 M393.700 684.500 L401.200 695.200 M397.500 682.600 L407.500 695.600 M400 680.700 L413.700 696"/>
<path class="t" d="M412 694.200 L553 703.300" stroke="#444"/>
<g transform="translate(393.500 562.300) rotate(-23.500)">
<rect x="-24" y="-4.700" width="48" height="9.400" fill="#dcdcdc" stroke="#222" stroke-width="1"/>
<path d="M-22 -4.500 V4.500 M-19 -4.500 V4.500 M-16 -4.500 V4.500 M-13 -4.500 V4.500 M-10 -4.500 V4.500 M-7 -4.500 V4.500 M-4 -4.500 V4.500 M-1 -4.500 V4.500 M2 -4.500 V4.500 M5 -4.500 V4.500 M8 -4.500 V4.500 M11 -4.500 V4.500 M14 -4.500 V4.500 M17 -4.500 V4.500 M20 -4.500 V4.500" stroke="#777" stroke-width=".7"/>
<rect x="-20" y="-12.500" width="8" height="7.500" fill="#e4e4e8" stroke="#111" stroke-width="1.600"/><rect x="-20" y="5" width="8" height="7.500" fill="#e4e4e8" stroke="#111" stroke-width="1.600"/>
<rect x="-12" y="-11.500" width="3" height="6.500" fill="#111"/><rect x="-12" y="5" width="3" height="6.500" fill="#111"/>
<rect x="-9" y="-12.500" width="8" height="7.500" fill="#e4e4e8" stroke="#111" stroke-width="1.600"/><rect x="-9" y="5" width="8" height="7.500" fill="#e4e4e8" stroke="#111" stroke-width="1.600"/>
<rect x="-1" y="-11.500" width="3" height="6.500" fill="#111"/><rect x="-1" y="5" width="3" height="6.500" fill="#111"/>
<rect x="2" y="-12.500" width="8" height="7.500" fill="#e4e4e8" stroke="#111" stroke-width="1.600"/><rect x="2" y="5" width="8" height="7.500" fill="#e4e4e8" stroke="#111" stroke-width="1.600"/>
<rect x="10" y="-11.500" width="3" height="6.500" fill="#111"/><rect x="10" y="5" width="3" height="6.500" fill="#111"/>
<rect x="13" y="-12.500" width="8" height="7.500" fill="#e4e4e8" stroke="#111" stroke-width="1.600"/><rect x="13" y="5" width="8" height="7.500" fill="#e4e4e8" stroke="#111" stroke-width="1.600"/>
<rect x="21" y="-11.500" width="3" height="6.500" fill="#111"/><rect x="21" y="5" width="3" height="6.500" fill="#111"/>
<rect x="-31" y="-4" width="7" height="8" fill="#fff" stroke="#222" stroke-width="1.400"/><rect x="24" y="-4" width="7" height="8" fill="#fff" stroke="#222" stroke-width="1.400"/>
</g>
<circle cx="379" cy="596.5" r="2" fill="#fff" stroke="#111" stroke-width="1.400"/>
<circle cx="468.5" cy="629.5" r="2" fill="#fff" stroke="#111" stroke-width="1.400"/>
<circle cx="489" cy="669.5" r="2" fill="#fff" stroke="#111" stroke-width="1.400"/>
<circle class="t" cx="471" cy="626" r="2.500" stroke="#bbb"/><circle class="t" cx="491.500" cy="666" r="2.500" stroke="#bbb"/>
<path class="m" stroke-width="2" d="M556 544 V554 M553 596 V606"/><circle cx="554" cy="543" r="1.500" fill="#111"/><circle cx="547.500" cy="609" r="1.800" fill="#111"/>
<path class="t" d="M558 546 H565 M563 556 V594 M556 556 H563 M554 594 H563 M552 609 H562" stroke="#555"/>
<path class="m" stroke-width="1.800" d="M519 694 L517 699"/><circle cx="518" cy="693" r="1.500" fill="#fff" stroke="#111"/>
<rect x="532" y="688" width="22" height="7" rx="1.500" fill="#111"/>
<path d="M547 668 q4 -2 5 1 l1 6 q-3 3 -6 0 Z" fill="#111"/>
<path class="m" stroke-width="1.800" d="M522 640 l3 -3 M528 641 h4 M527 649 h5 M521 673 L533 656" />
<path class="t" d="M513 653 L528 664 L531 660 L516 650 Z" stroke="#333"/>
<path class="t" d="M478 496 L465.500 510.500" stroke="#b8c0d8" stroke-width="1.200"/><path d="M480.500 495.500 h5 v2.500 h-5 Z M497.500 495.500 h5 v2.500 h-5 Z" fill="#111"/>
</g>
<g id="walls" fill="none" stroke="#05060c" stroke-width="3" stroke-linejoin="miter" stroke-linecap="butt">
<path d="M581 208 V35.500 H611 V85 M611 115 V208"/>
<path stroke-width="2.500" d="M581 52.500 H588 M611 52.500 H604 M581 74.500 H588 M611 74.500 H604 M581 120.500 H588 M611 120.500 H604 M581 141 H587 M611 141 H605 M581 163.500 H587 M611 163.500 H605 M581 188 H587 M611 188 H605"/>
<rect x="528" y="82" width="52" height="89.500"/>
<path stroke-width="4" d="M626.500 85 L650 38 H699"/>
<path stroke-width="3.200" d="M699 39.500 V18.500 H752.500 V38"/>
<path stroke-width="3" d="M752 47.500 H833"/>
<path stroke-width="1.200" d="M753 37.500 H833 M760 38 V47 M763 38 V47"/>
<path stroke-width="2.500" d="M852 34 L858 47.500 H849"/>
<path stroke-width="1.300" d="M852.500 34 L864 25.500 H941.500 V117"/>
<path stroke-width="3.600" d="M941 117 L851 162 L846 163.500 H646 L626.500 115.500 V112"/>
<path stroke-width="2.500" d="M626.500 84 V116"/>
<path stroke-width="3" d="M610 116 H628"/>
<path d="M823 163 V284.500 H968 V222.500 H925"/>
<path d="M944 222 V151 H927 Q917 151 915 142 L913 130"/>
<path stroke-width="4.500" d="M926 222 V285"/><path d="M925 262 Q925 282 904 284"/>
<path d="M588 207 H538 V263 H512 V270 H468 V399 H507"/>
<path stroke-width="4" d="M469 270 V399"/>
<path d="M609 207 H812"/>
<path stroke-width="1.500" d="M811.500 207 V250 H806"/>
<path d="M759.500 207 V248 H782 M806 207 V249"/>
<path stroke-width="3.200" d="M780 248 Q806 250 806.500 268 V312 Q806 322 797 324 L777 328 Q767 330 767 340 V396 H664.500 V342"/>
<path stroke-width="3.500" d="M509.500 399 V428 M505 428 H527 M545 428 H562 L574 393 L606 362"/>
<path d="M606 426 V374 H665 M647 374 V426"/>
<path d="M606 449 V460 H617 M647 449 V460 H632"/>
<path stroke-width="2.500" d="M606 390 H616 M606 403 H616 M606 416 H616 M647 390 H637 M647 403 H637 M647 416 H637"/>
<path stroke-width="3.400" d="M327.500 572 L347.500 693.500 L555 707 L576 509"/>
<path stroke-width="1.200" d="M421 519 L327.500 572"/>
</g>
<g id="labels" opacity=".999">
<rect x="531.4" y="128.9" width="46.2" height="28.7" rx="8.6" fill="url(#pill)" stroke="#05060c" stroke-width="2.8"/>
<text x="539.5" y="141.5" font-size="9.800" textLength="28.5" lengthAdjust="spacingAndGlyphs">DIARY</text>
<text x="540.5" y="153.1" font-size="9.800" textLength="26.5" lengthAdjust="spacingAndGlyphs">ROOM</text>
<rect x="723.4" y="96.0" width="62.7" height="22.0" rx="11.0" fill="url(#pill)" stroke="#05060c" stroke-width="2.8"/>
<text x="731.0" y="110.9" font-size="9.800" textLength="48.4" lengthAdjust="spacingAndGlyphs">BEDROOM</text>
<rect x="872.0" y="58.9" width="64.6" height="31.7" rx="10.1" fill="url(#pill)" stroke="#05060c" stroke-width="2.8"/>
<text x="881.0" y="73.2" font-size="9.800" textLength="47.0" lengthAdjust="spacingAndGlyphs">DRESSING</text>
<text x="890.0" y="85.5" font-size="9.800" textLength="29.4" lengthAdjust="spacingAndGlyphs">ROOM</text>
<rect x="829.4" y="197.0" width="63.8" height="21.6" rx="10.8" fill="url(#pill)" stroke="#05060c" stroke-width="2.8"/>
<text x="835.0" y="212.3" font-size="9.800" textLength="53.8" lengthAdjust="spacingAndGlyphs">BATHROOM</text>
<rect x="924.9" y="249.9" width="46.2" height="14.7" rx="7.3" fill="url(#pill)" stroke="#05060c" stroke-width="2.8"/>
<text x="925.6" y="260.8" font-size="9.800" textLength="43.8" lengthAdjust="spacingAndGlyphs">LAUNDRY</text>
<rect x="765.8" y="215.8" width="31.5" height="15.8" rx="7.9" fill="url(#pill)" stroke="#05060c" stroke-width="2.8"/>
<text x="768.0" y="227.3" font-size="9.800" textLength="26.6" lengthAdjust="spacingAndGlyphs">SHOP</text>
<rect x="661.4" y="222.0" width="58.2" height="21.6" rx="10.8" fill="url(#pill)" stroke="#05060c" stroke-width="2.8"/>
<text x="670.0" y="236.3" font-size="9.800" textLength="41.5" lengthAdjust="spacingAndGlyphs">KITCHEN</text>
<rect x="546.4" y="229.9" width="33.5" height="17.5" rx="8.8" fill="url(#pill)" stroke="#05060c" stroke-width="2.8"/>
<text x="549.6" y="242.5" font-size="9.800" textLength="27.6" lengthAdjust="spacingAndGlyphs">NOOK</text>
<rect x="584.9" y="283.4" width="93.4" height="16.8" rx="8.4" fill="url(#pill)" stroke="#05060c" stroke-width="2.8"/>
<text x="599.0" y="295.3" font-size="9.800" textLength="66.6" lengthAdjust="spacingAndGlyphs">DINING ROOM</text>
<rect x="473.9" y="322.4" width="48.7" height="19.2" rx="9.6" fill="url(#pill)" stroke="#05060c" stroke-width="2.8"/>
<text x="478.5" y="335.5" font-size="9.800" textLength="38.5" lengthAdjust="spacingAndGlyphs">LOUNGE</text>
<rect x="690.4" y="370.4" width="57.2" height="16.2" rx="8.1" fill="url(#pill)" stroke="#05060c" stroke-width="2.8"/>
<text x="694.3" y="382.0" font-size="9.800" textLength="50.1" lengthAdjust="spacingAndGlyphs">FISH BOWL</text>
<rect x="597.4" y="430.1" width="56.2" height="16.0" rx="8.0" fill="url(#pill)" stroke="#05060c" stroke-width="2.8"/>
<text x="600.6" y="441.7" font-size="9.800" textLength="51.0" lengthAdjust="spacingAndGlyphs">ENTRANCE</text>
<rect x="444.2" y="578.4" width="54.4" height="16.8" rx="8.4" fill="url(#pill)" stroke="#05060c" stroke-width="2.8"/>
<text x="451.8" y="590.4" font-size="9.800" textLength="39.2" lengthAdjust="spacingAndGlyphs">GARDEN</text>
</g>
<g stroke="#ee2452" stroke-width="6" stroke-linecap="butt" fill="none"><path d="M613.5 74.5 L628.5 98.5 M628.5 74.5 L613.5 98.5"/></g>
<g stroke="#ee2452" stroke-width="6" stroke-linecap="butt" fill="none"><path d="M832.0 35.4 L847.0 59.4 M847.0 35.4 L832.0 59.4"/></g>
<g stroke="#ee2452" stroke-width="6" stroke-linecap="butt" fill="none"><path d="M552.5 195.5 L567.5 219.5 M567.5 195.5 L552.5 219.5"/></g>
<defs><clipPath id="c1"><path d="M1150 640 H1179 V690 H1165.500 V667 H1150 Z"/></clipPath></defs>
<g id="logo">
<g clip-path="url(#c1)"><text x="1154.500" y="683.400" font-size="52" textLength="29" lengthAdjust="spacingAndGlyphs" style="fill:#c9b6c0;stroke:#c9b6c0;stroke-width:2.400;stroke-linejoin:round">1</text></g>
<text x="1174.800" y="684.300" font-size="52.500" textLength="43.500" lengthAdjust="spacingAndGlyphs" style="fill:#c9b6c0;stroke:#c9b6c0;stroke-width:3.400;stroke-linejoin:round">0</text>
</g>
</svg>
</body></html>
